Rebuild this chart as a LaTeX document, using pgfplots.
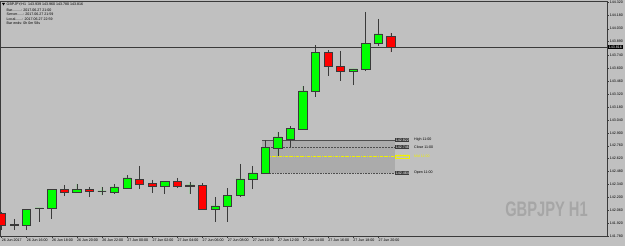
\documentclass[border=0pt]{standalone}
\usepackage{fontspec}
\setmainfont{Liberation Sans}
\usepackage{pgfplots}
\pgfplotsset{compat=1.18}
\usepgfplotslibrary{statistics}
\definecolor{bg}{HTML}{C0C0C0}
\definecolor{bullc}{HTML}{00FF00}
\definecolor{bearc}{HTML}{FF0000}
\definecolor{edge}{HTML}{3A3A3A}
\definecolor{boxf}{HTML}{ABABAB}
\definecolor{wm}{HTML}{A6A6A6}
\definecolor{ylw}{HTML}{F0F000}
\pgfplotsset{candle/.style={draw=edge, line width=0.6pt}}
% \bull{index}{open}{high}{low}{close}
\newcommand{\bull}[5]{\addplot[candle,fill=bullc,boxplot prepared={draw direction=y,box extend=0.66,whisker extend=0,draw position=#1,lower whisker=#4,lower quartile=#2,median=#5,upper quartile=#5,upper whisker=#3}] coordinates {};}
\newcommand{\bear}[5]{\addplot[candle,fill=bearc,boxplot prepared={draw direction=y,box extend=0.66,whisker extend=0,draw position=#1,lower whisker=#4,lower quartile=#5,median=#5,upper quartile=#2,upper whisker=#3}] coordinates {};}
\newcommand{\tinyf}{\fontsize{3.6}{4}\selectfont}
\begin{document}
\begin{tikzpicture}
\path[use as bounding box, fill=bg] (0,0) rectangle (625pt,246pt);
\begin{axis}[
  at={(0pt,10pt)}, anchor=south west,
  scale only axis, width=607pt, height=235pt,
  xmin=-0.119, xmax=48.21, ymin=141.78, ymax=144.331,
  clip mode=individual,
  axis line style={draw=edge, line width=0.6pt},
  tick align=outside, major tick length=2pt,
  tick style={draw=edge, line width=0.4pt},
  xtick pos=bottom, ytick pos=right,
  xtick={0,2,...,30},
  xticklabels={26 Jun 2017,26 Jun 16:00,26 Jun 18:00,26 Jun 20:00,26 Jun 22:00,27 Jun 00:00,27 Jun 02:00,27 Jun 04:00,27 Jun 06:00,27 Jun 08:00,27 Jun 10:00,27 Jun 12:00,27 Jun 14:00,27 Jun 16:00,27 Jun 18:00,27 Jun 20:00},
  xticklabel style={font=\tinyf, anchor=north west, inner sep=0.6pt, xshift=-0.5pt},
  ytick={141.78,141.92,142.06,142.20,142.34,142.48,142.62,142.76,142.90,143.04,143.18,143.32,143.46,143.60,143.74,143.89,144.03,144.18,144.32},
  yticklabels={141.780,141.920,142.060,142.200,142.340,142.480,142.620,142.760,142.900,143.040,143.180,143.320,143.460,143.600,143.740,143.890,144.030,144.180,144.320},
  yticklabel style={font=\tinyf, inner sep=0.6pt},
]
% range box (11:00 candle)
\addplot[draw=none, fill=boxf] coordinates {(20.75,142.464) (31.33,142.464) (31.33,142.822) (20.75,142.822)} -- cycle;
\addplot[draw=edge!90, line width=0.5pt] coordinates {(20.75,142.822) (31.33,142.822)};
\addplot[draw=edge!90, line width=0.5pt, dash pattern=on 2pt off 1pt] coordinates {(20.75,142.746) (31.33,142.746)};
\addplot[draw=ylw, line width=0.35pt, dash pattern=on 3pt off 1pt on 0.6pt off 1pt] coordinates {(20.75,142.643) (31.33,142.643)};
\addplot[draw=edge!90, line width=0.5pt, dash pattern=on 0.8pt off 0.8pt] coordinates {(20.75,142.464) (31.33,142.464)};
% bid line
\addplot[draw=edge, line width=0.5pt] coordinates {(-1,143.832) (49,143.832)};
% candles
\bear{0}{142.030}{142.041}{141.845}{141.899}
\bear{1}{141.910}{141.965}{141.845}{141.894}
\bull{2}{141.899}{142.073}{141.845}{142.073}
\bull{3}{142.076}{142.084}{141.932}{142.084}
\bull{4}{142.084}{142.290}{141.965}{142.290}
\bear{5}{142.290}{142.334}{142.214}{142.258}
\bull{6}{142.258}{142.345}{142.247}{142.290}
\bear{7}{142.290}{142.312}{142.203}{142.269}
\bull{8}{142.269}{142.312}{142.225}{142.269}
\bull{9}{142.258}{142.345}{142.236}{142.312}
\bull{10}{142.301}{142.442}{142.301}{142.410}
\bear{11}{142.399}{142.540}{142.290}{142.345}
\bear{12}{142.355}{142.388}{142.247}{142.323}
\bull{13}{142.323}{142.377}{142.236}{142.377}
\bear{14}{142.377}{142.410}{142.301}{142.323}
\bull{15}{142.323}{142.366}{142.236}{142.334}
\bear{16}{142.334}{142.355}{142.073}{142.073}
\bull{17}{142.073}{142.203}{141.932}{142.106}
\bull{18}{142.106}{142.301}{141.932}{142.225}
\bull{19}{142.225}{142.562}{142.203}{142.399}
\bull{20}{142.399}{142.540}{142.290}{142.464}
\bull{21}{142.464}{142.822}{142.464}{142.746}
\bull{22}{142.735}{142.909}{142.648}{142.855}
\bull{23}{142.833}{142.974}{142.746}{142.952}
\bull{24}{142.941}{143.408}{142.931}{143.354}
\bull{25}{143.354}{143.853}{143.289}{143.777}
\bear{26}{143.777}{143.799}{143.517}{143.625}
\bear{27}{143.625}{143.788}{143.463}{143.571}
\bull{28}{143.571}{143.593}{143.419}{143.593}
\bull{29}{143.593}{144.212}{143.571}{143.875}
\bull{30}{143.875}{144.136}{143.842}{143.973}
\bear{31}{143.951}{143.984}{143.777}{143.832}
% range labels
\node[anchor=west, fill=edge, text=white, font=\tinyf, inner sep=0.6pt] at (axis cs:31.33,142.822) {142.822};
\node[anchor=west, fill=edge, text=white, font=\tinyf, inner sep=0.6pt] at (axis cs:31.33,142.746) {142.746};
\node[anchor=west, draw=ylw, line width=0.3pt, text=ylw, font=\tinyf, inner sep=0.5pt] at (axis cs:31.33,142.643) {142.643};
\node[anchor=west, fill=edge, text=white, font=\tinyf, inner sep=0.6pt] at (axis cs:31.33,142.464) {142.464};
\node[anchor=west, text=black, font=\tinyf, inner sep=0pt] at (axis cs:32.84,142.822) {High 11:00};
\node[anchor=west, text=black, font=\tinyf, inner sep=0pt] at (axis cs:32.84,142.746) {Close 11:00};
\node[anchor=west, text=ylw, font=\tinyf, inner sep=0pt] at (axis cs:32.84,142.643) {Mid 11:00};
\node[anchor=west, text=black, font=\tinyf, inner sep=0pt] at (axis cs:32.84,142.464) {Open 11:00};
% current price
\node[anchor=west, fill=black, text=white, font=\tinyf, inner sep=0.6pt] at (axis cs:48.3,143.832) {143.816};
\end{axis}
% info text
\fill[black] (2pt,243pt) -- (5pt,243pt) -- (3.5pt,240.5pt) -- cycle;
\node[anchor=west, font=\tinyf, inner sep=0pt] at (6.5pt,241.8pt) {GBPJPY,H1 \ 143.939 143.960 143.780 143.816};
\node[anchor=west, font=\tinyf, inner sep=0pt] at (6.5pt,236pt) {Bar.........: 2017.06.27 21:00};
\node[anchor=west, font=\tinyf, inner sep=0pt] at (6.5pt,231.5pt) {Server......: 2017.06.27 21:59};
\node[anchor=west, font=\tinyf, inner sep=0pt] at (6.5pt,227pt) {Local.......: 2017.06.27 22:59};
\node[anchor=west, font=\tinyf, inner sep=0pt] at (6.5pt,222.5pt) {Bar ends: 0h 0m 58s};
% watermark
\node[anchor=base east, text=wm, font=\bfseries\fontsize{21}{21}\selectfont, inner sep=0pt] at (588pt,29pt) {\scalebox{0.7}[1]{GBPJPY H1}};
\end{tikzpicture}
\end{document}
